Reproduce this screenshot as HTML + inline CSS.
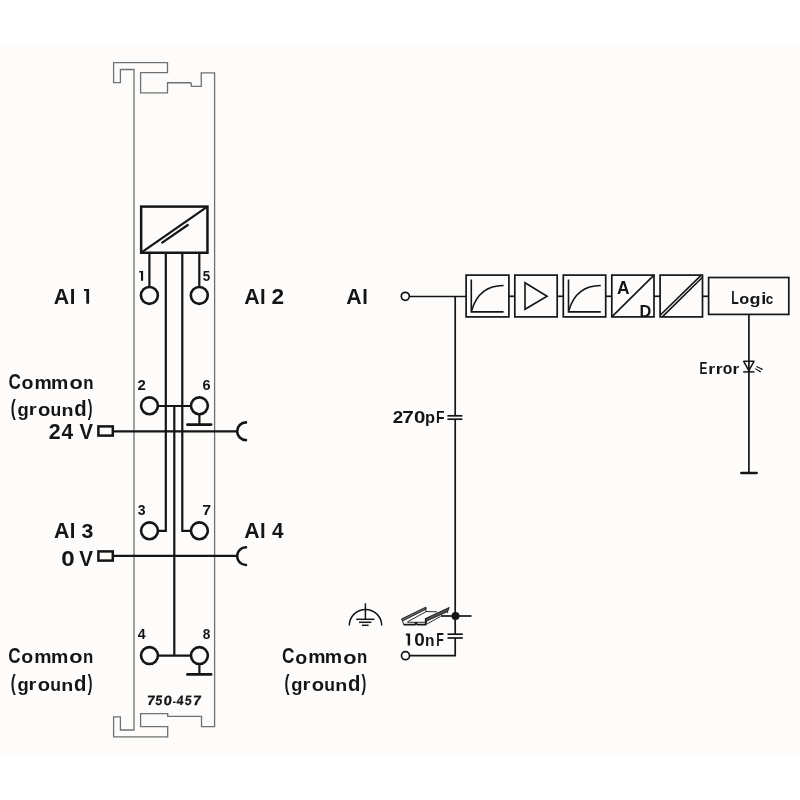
<!DOCTYPE html>
<html><head><meta charset="utf-8"><style>
html,body{margin:0;padding:0;background:#ffffff;width:800px;height:800px;overflow:hidden}
svg{display:block;will-change:transform}
text{font-family:"Liberation Sans",sans-serif;fill:#151515}
.lb{font-size:21.5px;font-weight:bold}
.md{font-size:17px;font-weight:bold}
.nm{font-size:14px;font-weight:bold}
</style></head><body>
<svg width="800" height="800" viewBox="0 0 800 800">
<rect x="0" y="44" width="800" height="712" fill="#fdfcfa"/>
<!-- module outline -->
<path d="M134,730 L134,69.5 L120.4,69.5 L120.4,82.6 L113.6,82.6 L113.6,62.6 L167.5,62.6 L167.5,72.6 L140.6,72.6 L140.6,92.9 L167.5,92.9 L167.5,82.75 L190.6,82.75 Q191.3,82.9 191.3,84 L191.3,86.4 L201.3,86.4 L201.25,72.85 L214.6,72.85 L214.6,726.6 L201.5,726.6 L201.5,716.4 L167.7,716.4 L167.7,713.6 L140.6,713.6 L140.6,726.6 L167.7,726.6 L167.7,736.9 L113.6,736.9 L113.6,716.9 L120.4,716.9 L120.4,730 Z" fill="none" stroke="#707070" stroke-width="1.3"/>

<g stroke="#151515" fill="none" stroke-width="2.2">
<!-- converter box -->
<rect x="141.15" y="206.6" width="66.3" height="46.15" stroke-width="2.5"/>
<line x1="141.2" y1="252.7" x2="207.4" y2="206.7"/>
<line x1="161.5" y1="243.1" x2="188.5" y2="224.5"/>
<!-- vertical wires -->
<line x1="149.4" y1="253" x2="149.4" y2="286.7"/>
<line x1="199.3" y1="253" x2="199.3" y2="286.7"/>
<polyline points="165.8,253 165.8,530.8 158,530.8"/>
<polyline points="182.3,253 182.3,530.8 191,530.8"/>
<line x1="174.3" y1="406" x2="174.3" y2="655.6"/>
<line x1="158" y1="406" x2="191" y2="406"/>
<line x1="158" y1="655.6" x2="191" y2="655.6"/>
<!-- terminals -->
<circle cx="149.4" cy="295.4" r="8.45" stroke-width="2.6"/>
<circle cx="199.3" cy="295.4" r="8.45" stroke-width="2.6"/>
<circle cx="149.5" cy="405.8" r="8.45" stroke-width="2.6"/>
<circle cx="199.4" cy="405.8" r="8.45" stroke-width="2.6"/>
<circle cx="149.5" cy="530.8" r="8.45" stroke-width="2.6"/>
<circle cx="199.4" cy="530.8" r="8.45" stroke-width="2.6"/>
<circle cx="149.5" cy="655.6" r="8.45" stroke-width="2.6"/>
<circle cx="199.4" cy="655.6" r="8.45" stroke-width="2.6"/>
<!-- ground marks -->
<line x1="199.4" y1="414" x2="199.4" y2="424.8"/>
<line x1="187.4" y1="424.6" x2="211.1" y2="424.6" stroke-width="2.7" stroke-linecap="round"/>
<line x1="199.4" y1="664" x2="199.4" y2="674.3"/>
<line x1="187.4" y1="674.4" x2="211.1" y2="674.4" stroke-width="2.7" stroke-linecap="round"/>
<!-- 24V / 0V -->
<rect x="98.4" y="426.4" width="14.4" height="9.2" stroke-width="2.5"/>
<line x1="112.8" y1="431.3" x2="237" y2="431.3"/>
<path d="M246,422.4 A8.85,8.85 0 0 0 246,440.1" stroke-width="2.6" stroke-linecap="round"/>
<rect x="98.4" y="551.4" width="14.4" height="9.2" stroke-width="2.5"/>
<line x1="112.8" y1="555.9" x2="237" y2="555.9"/>
<path d="M246,547.2 A8.9,8.9 0 0 0 246,565" stroke-width="2.6" stroke-linecap="round"/>
</g>


<!-- right schematic -->
<g stroke="#151515" fill="none" stroke-width="1.7">
<circle cx="405.3" cy="296.3" r="4"/>
<line x1="409.3" y1="296.5" x2="466" y2="296.5"/>
<line x1="455.2" y1="296.5" x2="455.2" y2="415.8"/>
<line x1="447.4" y1="415.8" x2="462.4" y2="415.8"/>
<line x1="447.4" y1="419.2" x2="462.4" y2="419.2"/>
<line x1="455.2" y1="419.2" x2="455.2" y2="634.2"/>
<line x1="447.5" y1="634.2" x2="462.8" y2="634.2"/>
<line x1="447.5" y1="638" x2="462.8" y2="638"/>
<polyline points="455.2,638 455.2,655.6 409.5,655.6"/>
<circle cx="405.5" cy="655.7" r="4"/>
<line x1="441" y1="616" x2="471.5" y2="616"/>
<!-- boxes -->
<rect x="466.1" y="275.1" width="42.8" height="41.8"/>
<rect x="514.8" y="275.1" width="42.4" height="41.8"/>
<rect x="563.3" y="275.1" width="42.4" height="41.8"/>
<rect x="611.8" y="275.1" width="42.2" height="41.8"/>
<rect x="660.1" y="275.1" width="42.4" height="41.8"/>
<rect x="708.6" y="277.5" width="80.2" height="36.9"/>
<line x1="508.9" y1="296.3" x2="514.8" y2="296.3"/>
<line x1="557.2" y1="296.3" x2="563.3" y2="296.3"/>
<line x1="605.7" y1="296.3" x2="611.8" y2="296.3"/>
<line x1="654" y1="296.3" x2="660.1" y2="296.3"/>
<line x1="702.5" y1="296.3" x2="708.6" y2="296.3"/>
<!-- box1 curve -->
<g stroke-width="1.6">
<polyline points="471.3,279.4 471.3,311.9 503.6,311.9"/>
<path d="M471.7,310.5 C477,292 490,285.5 503.6,285.5"/>
<polyline points="568.5,279.4 568.5,311.9 600.8,311.9"/>
<path d="M568.9,310.5 C574.2,292 587.2,285.5 600.8,285.5"/>
<polygon points="525,282.7 525,309.3 547.1,296.3"/>
<line x1="611.8" y1="316.9" x2="654" y2="275.1"/>
<line x1="660.1" y1="315.3" x2="701.3" y2="275.1"/>
<line x1="662.3" y1="316.9" x2="702.5" y2="277.3"/>
</g>
<!-- logic vertical / led -->
<line x1="748.9" y1="314.4" x2="748.9" y2="473"/>
<line x1="741.2" y1="473" x2="756.8" y2="473" stroke-width="2.3" stroke-linecap="round"/>
<g stroke-width="1.5">
<polygon points="743.7,361.3 754.0,361.3 748.8,370.6" stroke-linejoin="round"/>
<line x1="743.2" y1="371.9" x2="754.4" y2="371.9"/>
<line x1="756.4" y1="366.4" x2="761.8" y2="369.1" stroke-width="1.1"/>
<line x1="755.1" y1="368.6" x2="760.0" y2="371.5" stroke-width="1.1"/>
<polygon points="763.3,369.86 760.72,369.67 761.62,367.89" fill="#151515" stroke="none"/>
<polygon points="761.5,372.26 758.92,372.07 759.82,370.29" fill="#151515" stroke="none"/>
</g>
<!-- PE symbol -->
<g stroke-width="1.5">
<line x1="365.4" y1="603.3" x2="365.4" y2="619.3"/>
<line x1="356.3" y1="619.3" x2="374.5" y2="619.3"/>
<line x1="359" y1="622.3" x2="371.4" y2="622.3"/>
<line x1="361.9" y1="625.3" x2="368.6" y2="625.3"/>
<path d="M349.3,625.6 A16.2,16.2 0 0 1 381.7,625.6"/>
</g>
<!-- DIN rail -->
<g stroke-width="0.9" stroke-linejoin="round">
<polygon points="401.4,619.0 425.7,607.2 425.9,609.2 402.6,620.9" fill="#6a6a6a"/>
<line x1="407.4" y1="621.9" x2="425.8" y2="611.8"/>
<line x1="425.9" y1="607.4" x2="425.9" y2="611.8"/>
<line x1="425.9" y1="611.5" x2="437" y2="611.8"/>
<polyline points="402.6,620.9 403.6,624.6"/>
<polyline points="403.6,624.6 415,624.6 416,622.6 417.2,624.6 426.3,624.6" stroke-width="1.8"/>
<line x1="407.5" y1="622.3" x2="425.5" y2="622.3"/>
<polygon points="425.3,618.6 449.2,607.5 447.6,611.6 426.5,621.1" fill="#505050"/>
<line x1="425.6" y1="618.6" x2="425.6" y2="624.5" stroke-width="1.4"/>
<polyline points="426.3,624.4 440.5,616.4"/>
<line x1="447.6" y1="611.6" x2="447.6" y2="613"/>
<line x1="426.5" y1="621.1" x2="426.5" y2="623.5"/>
</g>
</g>
<circle cx="455.5" cy="616" r="4" fill="#151515"/>

<g fill="#151515">
<text transform="translate(8.40 389.29) scale(0.809 1)" font-size="21.19" font-weight="bold">C</text>
<text transform="translate(21.44 389.32) scale(1.059 1)" font-size="18.44" font-weight="bold">o</text>
<text transform="translate(34.52 389.00) scale(1.074 1)" font-size="18.10" font-weight="bold">m</text>
<text transform="translate(51.12 389.00) scale(1.074 1)" font-size="18.10" font-weight="bold">m</text>
<text transform="translate(69.45 389.32) scale(1.181 1)" font-size="18.44" font-weight="bold">o</text>
<text transform="translate(83.29 389.00) scale(0.927 1)" font-size="18.10" font-weight="bold">n</text>
<text transform="translate(8.20 663.29) scale(0.809 1)" font-size="21.19" font-weight="bold">C</text>
<text transform="translate(21.24 663.32) scale(1.059 1)" font-size="18.44" font-weight="bold">o</text>
<text transform="translate(34.32 663.00) scale(1.074 1)" font-size="18.10" font-weight="bold">m</text>
<text transform="translate(50.92 663.00) scale(1.074 1)" font-size="18.10" font-weight="bold">m</text>
<text transform="translate(69.25 663.32) scale(1.181 1)" font-size="18.44" font-weight="bold">o</text>
<text transform="translate(83.09 663.00) scale(0.927 1)" font-size="18.10" font-weight="bold">n</text>
<text transform="translate(282.10 663.49) scale(0.809 1)" font-size="21.19" font-weight="bold">C</text>
<text transform="translate(295.14 663.52) scale(1.059 1)" font-size="18.44" font-weight="bold">o</text>
<text transform="translate(308.22 663.20) scale(1.074 1)" font-size="18.10" font-weight="bold">m</text>
<text transform="translate(324.82 663.20) scale(1.074 1)" font-size="18.10" font-weight="bold">m</text>
<text transform="translate(343.15 663.52) scale(1.181 1)" font-size="18.44" font-weight="bold">o</text>
<text transform="translate(356.99 663.20) scale(0.927 1)" font-size="18.10" font-weight="bold">n</text>
<text transform="translate(10.75 414.60) scale(0.711 1)" font-size="21.19" font-weight="bold">(</text>
<text transform="translate(17.50 416.12) scale(1.004 1)" font-size="18.32" font-weight="bold">g</text>
<text transform="translate(28.66 415.25) scale(1.214 1)" font-size="16.71" font-weight="bold">r</text>
<text transform="translate(37.96 415.58) scale(1.134 1)" font-size="17.80" font-weight="bold">o</text>
<text transform="translate(50.41 415.58) scale(0.997 1)" font-size="17.66" font-weight="bold">u</text>
<text transform="translate(61.45 415.50) scale(1.145 1)" font-size="17.17" font-weight="bold">n</text>
<text transform="translate(74.17 415.53) scale(0.919 1)" font-size="22.13" font-weight="bold">d</text>
<text transform="translate(87.74 414.60) scale(0.669 1)" font-size="21.19" font-weight="bold">)</text>
<text transform="translate(10.65 689.60) scale(0.711 1)" font-size="21.19" font-weight="bold">(</text>
<text transform="translate(17.40 691.12) scale(1.004 1)" font-size="18.32" font-weight="bold">g</text>
<text transform="translate(28.56 690.25) scale(1.214 1)" font-size="16.71" font-weight="bold">r</text>
<text transform="translate(37.86 690.58) scale(1.134 1)" font-size="17.80" font-weight="bold">o</text>
<text transform="translate(50.31 690.58) scale(0.997 1)" font-size="17.66" font-weight="bold">u</text>
<text transform="translate(61.35 690.50) scale(1.145 1)" font-size="17.17" font-weight="bold">n</text>
<text transform="translate(74.07 690.53) scale(0.919 1)" font-size="22.13" font-weight="bold">d</text>
<text transform="translate(87.64 689.60) scale(0.669 1)" font-size="21.19" font-weight="bold">)</text>
<text transform="translate(284.55 689.70) scale(0.711 1)" font-size="21.19" font-weight="bold">(</text>
<text transform="translate(291.30 691.22) scale(1.004 1)" font-size="18.32" font-weight="bold">g</text>
<text transform="translate(302.46 690.35) scale(1.214 1)" font-size="16.71" font-weight="bold">r</text>
<text transform="translate(311.76 690.68) scale(1.134 1)" font-size="17.80" font-weight="bold">o</text>
<text transform="translate(324.21 690.68) scale(0.997 1)" font-size="17.66" font-weight="bold">u</text>
<text transform="translate(335.25 690.60) scale(1.145 1)" font-size="17.17" font-weight="bold">n</text>
<text transform="translate(347.97 690.63) scale(0.919 1)" font-size="22.13" font-weight="bold">d</text>
<text transform="translate(361.54 689.70) scale(0.669 1)" font-size="21.19" font-weight="bold">)</text>
<text transform="translate(53.87 303.70) scale(0.984 1)" font-size="21.66" font-weight="bold">A</text>
<text transform="translate(69.65 303.70) scale(0.930 1)" font-size="21.66" font-weight="bold">I</text>
<path d="M84.00,288.90 L89.10,288.90 L89.10,303.70 L86.30,303.70 L86.30,291.10 L84.00,291.10 Z" fill="#151515"/>
<text transform="translate(244.17 303.70) scale(0.984 1)" font-size="21.66" font-weight="bold">A</text>
<text transform="translate(259.95 303.70) scale(0.930 1)" font-size="21.66" font-weight="bold">I</text>
<text transform="translate(271.42 303.70) scale(1.061 1)" font-size="21.34" font-weight="bold">2</text>
<text transform="translate(54.07 537.90) scale(0.984 1)" font-size="21.66" font-weight="bold">A</text>
<text transform="translate(69.85 537.90) scale(0.930 1)" font-size="21.66" font-weight="bold">I</text>
<text transform="translate(81.41 537.66) scale(1.015 1)" font-size="21.00" font-weight="bold">3</text>
<text transform="translate(244.27 537.90) scale(0.984 1)" font-size="21.66" font-weight="bold">A</text>
<text transform="translate(260.05 537.90) scale(0.930 1)" font-size="21.66" font-weight="bold">I</text>
<text transform="translate(272.09 537.90) scale(0.957 1)" font-size="21.66" font-weight="bold">4</text>
<text transform="translate(346.27 303.50) scale(0.998 1)" font-size="21.37" font-weight="bold">A</text>
<text transform="translate(362.25 303.50) scale(0.942 1)" font-size="21.37" font-weight="bold">I</text>
<text transform="translate(48.66 439.20) scale(0.989 1)" font-size="21.63" font-weight="bold">2</text>
<text transform="translate(61.58 439.20) scale(0.965 1)" font-size="21.66" font-weight="bold">4</text>
<text transform="translate(79.46 439.20) scale(0.933 1)" font-size="21.66" font-weight="bold">V</text>
<text transform="translate(61.14 565.69) scale(1.126 1)" font-size="21.47" font-weight="bold">0</text>
<text transform="translate(79.26 565.70) scale(0.967 1)" font-size="21.37" font-weight="bold">V</text>
<text transform="translate(731.18 303.90) scale(0.704 1)" font-size="17.44" font-weight="bold">L</text>
<text transform="translate(739.26 304.06) scale(1.105 1)" font-size="14.79" font-weight="bold">o</text>
<text transform="translate(749.46 304.35) scale(1.174 1)" font-size="15.32" font-weight="bold">g</text>
<text transform="translate(761.13 303.90) scale(1.048 1)" font-size="17.39" font-weight="bold">i</text>
<text transform="translate(765.87 304.06) scale(0.915 1)" font-size="14.79" font-weight="bold">c</text>
<text transform="translate(699.51 374.10) scale(0.686 1)" font-size="17.15" font-weight="bold">E</text>
<text transform="translate(708.32 374.10) scale(1.158 1)" font-size="15.41" font-weight="bold">r</text>
<text transform="translate(715.82 374.10) scale(1.158 1)" font-size="15.41" font-weight="bold">r</text>
<text transform="translate(722.69 374.14) scale(0.987 1)" font-size="15.88" font-weight="bold">o</text>
<text transform="translate(732.54 374.10) scale(1.137 1)" font-size="15.41" font-weight="bold">r</text>
<text transform="translate(392.75 422.50) scale(1.088 1)" font-size="17.19" font-weight="bold">2</text>
<text transform="translate(402.20 422.50) scale(1.218 1)" font-size="17.15" font-weight="bold">7</text>
<text transform="translate(413.94 422.53) scale(1.190 1)" font-size="17.23" font-weight="bold">0</text>
<text transform="translate(424.92 423.07) scale(0.963 1)" font-size="17.00" font-weight="bold">p</text>
<text transform="translate(435.96 422.50) scale(0.816 1)" font-size="17.15" font-weight="bold">F</text>
<path d="M405.90,633.50 L410.10,633.50 L410.10,645.50 L407.70,645.50 L407.70,635.40 L405.90,635.40 Z" fill="#151515"/>
<text transform="translate(414.15 645.53) scale(1.081 1)" font-size="17.51" font-weight="bold">0</text>
<text transform="translate(424.98 645.50) scale(0.996 1)" font-size="15.60" font-weight="bold">n</text>
<text transform="translate(436.27 645.50) scale(0.712 1)" font-size="17.44" font-weight="bold">F</text>
<text transform="translate(616.97 294.10) scale(0.968 1)" font-size="18.02" font-weight="bold">A</text>
<text transform="translate(639.41 316.60) scale(1.002 1)" font-size="16.28" font-weight="bold">D</text>
<path d="M139.25,270.90 L143.10,270.90 L143.10,280.75 L141.00,280.75 L141.00,272.50 L139.25,272.50 Z" fill="#151515"/>
<text transform="translate(202.69 280.61) scale(0.956 1)" font-size="13.97" font-weight="bold">5</text>
<text transform="translate(137.38 389.70) scale(1.044 1)" font-size="14.32" font-weight="bold">2</text>
<text transform="translate(202.47 389.62) scale(1.052 1)" font-size="13.77" font-weight="bold">6</text>
<text transform="translate(137.68 514.84) scale(0.989 1)" font-size="14.24" font-weight="bold">3</text>
<text transform="translate(202.21 515.00) scale(1.100 1)" font-size="14.54" font-weight="bold">7</text>
<text transform="translate(137.79 639.40) scale(0.976 1)" font-size="14.54" font-weight="bold">4</text>
<text transform="translate(202.82 639.36) scale(0.944 1)" font-size="14.48" font-weight="bold">8</text>
<text transform="translate(146.47 705.40) skewX(-6.0) scale(1.089 1)" font-size="13.37" font-weight="bold" stroke="#151515" stroke-width="0.25">7</text>
<text transform="translate(155.10 705.47) skewX(-6.0) scale(0.927 1)" font-size="13.47" font-weight="bold" stroke="#151515" stroke-width="0.25">5</text>
<text transform="translate(163.30 705.47) skewX(-6.0) scale(1.111 1)" font-size="13.28" font-weight="bold" stroke="#151515" stroke-width="0.25">0</text>
<text transform="translate(176.31 705.40) skewX(-6.0) scale(0.926 1)" font-size="13.37" font-weight="bold" stroke="#151515" stroke-width="0.25">4</text>
<text transform="translate(184.51 705.47) skewX(-6.0) scale(0.897 1)" font-size="13.47" font-weight="bold" stroke="#151515" stroke-width="0.25">5</text>
<text transform="translate(192.46 705.40) skewX(-6.0) scale(1.121 1)" font-size="13.37" font-weight="bold" stroke="#151515" stroke-width="0.25">7</text>
<line x1="173.0" y1="702.3" x2="175.6" y2="702.3" stroke="#151515" stroke-width="1.4"/>
</g>
</svg>
</body></html>
